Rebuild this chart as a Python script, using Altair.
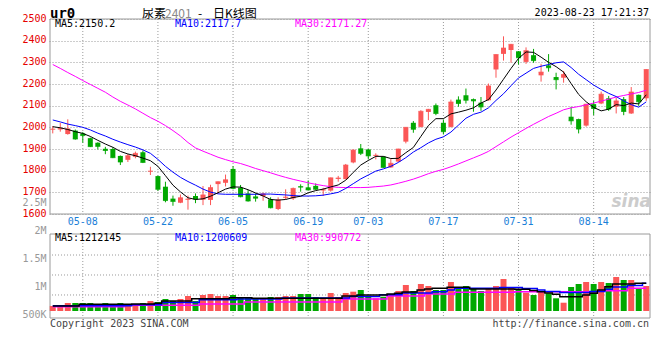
import altair as alt
import pandas as pd

# ---------------- data ----------------
dates = ["04-27", "04-28", "05-04", "05-05", "05-08", "05-09", "05-10", "05-11", "05-12", "05-15",
         "05-16", "05-17", "05-18", "05-19", "05-22", "05-23", "05-24", "05-25", "05-26", "05-29",
         "05-30", "05-31", "06-01", "06-02", "06-05", "06-06", "06-07", "06-08", "06-09", "06-12",
         "06-13", "06-14", "06-15", "06-16", "06-19", "06-20", "06-21", "06-26", "06-27", "06-28",
         "06-29", "06-30", "07-03", "07-04", "07-05", "07-06", "07-07", "07-10", "07-11", "07-12",
         "07-13", "07-14", "07-17", "07-18", "07-19", "07-20", "07-21", "07-24", "07-25", "07-26",
         "07-27", "07-28", "07-31", "08-01", "08-02", "08-03", "08-04", "08-07", "08-08", "08-09",
         "08-10", "08-11", "08-14", "08-15", "08-16", "08-17", "08-18", "08-21", "08-22", "08-23"]

opens = [1990, 1990, 1969, 1985, 1972, 1950, 1929, 1901, 1900, 1868,
         1850, 1864, 1885, 1796, 1775, 1726, 1671, 1652, 1666, 1683,
         1666, 1665, 1738, 1744, 1808, 1721, 1695, 1681, 1683, 1668,
         1623, 1675, 1672, 1728, 1723, 1730, 1709, 1708, 1762, 1761,
         1838, 1903, 1898, 1868, 1865, 1815, 1842, 1934, 2021, 2002,
         2071, 2102, 2021, 2002, 2128, 2148, 2130, 2114, 2125, 2267,
         2339, 2357, 2351, 2302, 2333, 2240, 2286, 2232, 2229, 2049,
         2038, 2008, 2107, 2110, 2134, 2095, 2130, 2064, 2150, 2134]
highs = [2006, 2020, 2037, 1990, 1978, 1953, 1931, 1910, 1908, 1870,
         1877, 1888, 1893, 1818, 1777, 1749, 1685, 1690, 1685, 1695,
         1729, 1735, 1750, 1782, 1821, 1734, 1711, 1695, 1698, 1677,
         1677, 1714, 1722, 1737, 1755, 1741, 1721, 1768, 1776, 1831,
         1898, 1923, 1900, 1880, 1866, 1854, 1901, 2001, 2029, 2079,
         2085, 2110, 2036, 2128, 2143, 2179, 2133, 2140, 2202, 2337,
         2420, 2385, 2352, 2369, 2362, 2293, 2338, 2252, 2260, 2095,
         2040, 2108, 2122, 2165, 2145, 2137, 2140, 2186, 2151, 2268]
lows = [1972, 1980, 1966, 1943, 1929, 1909, 1898, 1876, 1858, 1826,
        1840, 1857, 1835, 1780, 1707, 1654, 1638, 1650, 1620, 1650,
        1641, 1641, 1695, 1727, 1714, 1677, 1657, 1657, 1661, 1626,
        1618, 1668, 1665, 1703, 1710, 1711, 1683, 1703, 1749, 1760,
        1834, 1872, 1852, 1852, 1813, 1813, 1840, 1926, 1975, 2000,
        2033, 2056, 1967, 2000, 2095, 2110, 2072, 2076, 2123, 2229,
        2308, 2298, 2290, 2293, 2298, 2211, 2257, 2175, 2206, 2012,
        1972, 2003, 2056, 2107, 2076, 2064, 2056, 2062, 2099, 2122]
closes = [1992, 1995, 1993, 1946, 1962, 1911, 1912, 1893, 1860, 1840,
          1869, 1880, 1838, 1798, 1714, 1662, 1658, 1675, 1669, 1669,
          1688, 1722, 1749, 1758, 1718, 1680, 1660, 1673, 1693, 1629,
          1665, 1678, 1718, 1724, 1711, 1714, 1712, 1767, 1766, 1826,
          1895, 1880, 1868, 1871, 1815, 1834, 1900, 2000, 1991, 2074,
          2083, 2064, 1980, 2117, 2110, 2125, 2122, 2094, 2191, 2336,
          2366, 2383, 2321, 2354, 2308, 2255, 2275, 2220, 2244, 2030,
          1992, 2107, 2087, 2153, 2084, 2122, 2073, 2163, 2118, 2267]

ma5 = [2003, 1998, 1990, 1980, 1972, 1958, 1940, 1923, 1908, 1889,
       1877, 1869, 1858, 1846, 1820, 1777, 1733, 1702, 1675, 1667,
       1670, 1682, 1698, 1715, 1725, 1724, 1712, 1697, 1683, 1667,
       1664, 1667, 1676, 1682, 1698, 1708, 1715, 1725, 1734, 1756,
       1792, 1826, 1847, 1866, 1866, 1856, 1857, 1883, 1907, 1958,
       2008, 2040, 2040, 2062, 2070, 2079, 2090, 2112, 2128, 2172,
       2222, 2272, 2318, 2348, 2346, 2324, 2300, 2280, 2255, 2202,
       2152, 2118, 2092, 2076, 2084, 2105, 2100, 2112, 2108, 2150.2]
ma10 = [2034, 2025, 2015, 2008, 2000, 1988, 1973, 1960, 1945, 1932,
        1920, 1909, 1896, 1880, 1852, 1820, 1793, 1769, 1750, 1733,
        1715, 1701, 1693, 1691, 1691, 1691, 1691, 1691, 1692, 1692,
        1690, 1688, 1685, 1683, 1683, 1684, 1687, 1693, 1700, 1718,
        1740, 1762, 1780, 1798, 1808, 1820, 1838, 1860, 1886, 1906,
        1928, 1945, 1956, 1978, 2010, 2042, 2060, 2070, 2090, 2124,
        2155, 2192, 2228, 2250, 2272, 2282, 2290, 2298, 2302, 2276,
        2245, 2220, 2195, 2175, 2157, 2142, 2122, 2105, 2093, 2117.7]
ma30 = [2290, 2272, 2253, 2235, 2216, 2198, 2180, 2162, 2140, 2120,
        2103, 2085, 2065, 2045, 2028, 2008, 1985, 1960, 1930, 1905,
        1890, 1876, 1862, 1851, 1841, 1833, 1822, 1810, 1800, 1790,
        1779, 1769, 1760, 1752, 1744, 1737, 1731, 1726, 1723, 1722,
        1722, 1722, 1723, 1726, 1729, 1734, 1742, 1751, 1761, 1773,
        1786, 1797, 1806, 1818, 1831, 1845, 1859, 1873, 1889, 1911,
        1933, 1955, 1975, 1995, 2014, 2032, 2050, 2065, 2081, 2090,
        2096, 2104, 2112, 2121, 2130, 2140, 2147, 2154, 2161, 2171.27]

volumes = [714000, 714000, 768000, 768000, 768000, 768000, 732000, 768000, 732000, 768000,
           714000, 732000, 768000, 804000, 786000, 839000, 804000, 839000, 893000, 804000,
           911000, 929000, 893000, 893000, 911000, 875000, 875000, 857000, 839000, 875000,
           875000, 893000, 893000, 929000, 929000, 875000, 857000, 946000, 875000, 946000,
           970000, 1000000, 898000, 852000, 880000, 911000, 982000, 1089000, 982000, 1107000,
           1071000, 1000000, 1000000, 1143000, 1054000, 1071000, 1030000, 982000, 1030000, 1071000,
           1196000, 1054000, 1000000, 952000, 911000, 970000, 941000, 852000, 773000, 1054000,
           1107000, 1143000, 1107000, 1143000, 1125000, 1232000, 1179000, 1179000, 1018000, 1071000]
vol_ma5 = [714000, 714000, 714000, 714000, 745000, 745000, 745000, 745000, 745000, 745000,
           745000, 750000, 750000, 750000, 763000, 804000, 804000, 804000, 804000, 845000,
           845000, 845000, 845000, 845000, 863000, 863000, 863000, 852000, 852000, 852000,
           852000, 852000, 852000, 852000, 852000, 852000, 852000, 852000, 852000, 893000,
           893000, 911000, 911000, 911000, 911000, 929000, 941000, 964000, 964000, 1000000,
           1018000, 1030000, 1030000, 1048000, 1048000, 1048000, 1018000, 1018000, 1018000, 1018000,
           1018000, 1018000, 1013000, 1013000, 991000, 970000, 946000, 923000, 880000, 880000,
           880000, 911000, 941000, 1000000, 1059000, 1107000, 1107000, 1107000, 1120000, 1120000]
vol_ma10 = [720000, 720000, 720000, 720000, 720000, 720000, 720000, 720000, 720000, 720000,
            720000, 738000, 738000, 738000, 738000, 777000, 777000, 777000, 777000, 777000,
            825000, 825000, 825000, 825000, 825000, 839000, 839000, 839000, 839000, 839000,
            839000, 857000, 857000, 857000, 857000, 857000, 857000, 857000, 857000, 857000,
            884000, 884000, 884000, 884000, 916000, 916000, 916000, 946000, 946000, 946000,
            946000, 970000, 970000, 1000000, 1030000, 1030000, 1030000, 1030000, 1030000, 1030000,
            1045000, 1045000, 1045000, 1027000, 1027000, 1000000, 973000, 973000, 955000, 955000,
            955000, 955000, 973000, 973000, 1013000, 1054000, 1054000, 1080000, 1080000, 1120000]
vol_ma30 = [702000, 702000, 702000, 702000, 702000, 702000, 702000, 702000, 702000, 702000,
            727000, 727000, 727000, 727000, 727000, 727000, 727000, 727000, 727000, 727000,
            750000, 750000, 750000, 750000, 750000, 750000, 786000, 786000, 786000, 786000,
            786000, 786000, 786000, 786000, 786000, 786000, 786000, 786000, 786000, 839000,
            839000, 839000, 839000, 839000, 839000, 893000, 893000, 893000, 893000, 893000,
            929000, 929000, 929000, 929000, 959000, 959000, 959000, 959000, 959000, 959000,
            959000, 959000, 970000, 970000, 970000, 970000, 970000, 970000, 970000, 970000,
            970000, 970000, 970000, 988000, 988000, 988000, 988000, 1030000, 1030000, 1030000]

label_dates = ["05-08", "05-22", "06-05", "06-19", "07-03", "07-17", "07-31", "08-14"]
price_ticks = [1600, 1700, 1800, 1900, 2000, 2100, 2200, 2300, 2400, 2500]
vol_ticks = [500000, 1000000, 1500000, 2000000, 2500000]
vol_grid = [911000, 1268000, 1625000]
VOL_FLOOR = 625000

price_legend = ["MA5:2150.2", "MA10:2117.7", "MA30:2171.27"]
vol_legend = ["MA5:1212145", "MA10:1200609", "MA30:990772"]

# ---------------- styling ----------------
RED = "#fb5656"
GREEN = "#00a800"
BLUE = "#0000ff"
MAGENTA = "#ff00ff"
MONO = "DejaVu Sans Mono"
CJK = "Noto Sans CJK SC"
GRID = "#9a9a9a"

df = pd.DataFrame({
    "date": dates, "open": opens, "high": highs, "low": lows, "close": closes,
    "ma5": ma5, "ma10": ma10, "ma30": ma30,
    "vol": volumes, "vma5": vol_ma5, "vma10": vol_ma10, "vma30": vol_ma30,
})
labels_df = pd.DataFrame({"date": label_dates})
grid_df = pd.DataFrame({"g": vol_grid})
one = pd.DataFrame({"k": [0]})

X = alt.X("date:O", scale=alt.Scale(domain=dates, range=[-1, 600], paddingInner=0, paddingOuter=0), axis=None)
price_scale = alt.Scale(domain=[1600, 2500], range=[195, 0], nice=False, zero=False)
vol_scale = alt.Scale(domain=[500000, 2500000], range=[299, 187], nice=False, zero=False)
updown = alt.condition(alt.datum.close >= alt.datum.open, alt.value(RED), alt.value(GREEN))

price_axis = alt.Axis(values=price_ticks, format="d", grid=True, gridDash=[1, 2], gridColor=GRID,
                      domain=False, ticks=False, labelColor="#e60000", labelFont=MONO, labelFontSize=10,
                      labelPadding=4, labelOffset=-1, title=None, orient="left")
vol_axis = alt.Axis(values=vol_ticks, grid=False, domain=False, ticks=False, labelColor="#999999",
                    labelFont=MONO, labelFontSize=10, labelPadding=4, labelOffset=-4, title=None,
                    orient="left",
                    labelExpr="datum.value >= 1000000 ? format(datum.value / 1000000, '~g') + 'M' : format(datum.value / 1000, '~g') + 'K'")

base = alt.Chart(df)


def txt(s, x, y, color="black", size=10, align="left", font=MONO, weight="normal", style="normal"):
    return alt.Chart(one).mark_text(text=s, align=align, baseline="middle", color=color, fontSize=size,
                                    font=font, fontWeight=weight, fontStyle=style).encode(
        x=alt.value(x), y=alt.value(y))


# price panel
price_frame = alt.Chart(one).mark_rect(fill="white", fillOpacity=0, stroke=GRID, strokeWidth=1).encode(
    x=alt.value(0), x2=alt.value(600),
    y=alt.YDatum(2500, scale=price_scale, axis=None, type="quantitative"), y2=alt.Y2Datum(1600))
price_vgrid = alt.Chart(labels_df).mark_rule(strokeDash=[1, 2], color=GRID).encode(
    x=X, y=alt.YDatum(2500, scale=price_scale, axis=None, type="quantitative"), y2=alt.Y2Datum(1600))
wicks = base.mark_rule(strokeWidth=1).encode(
    x=X, y=alt.Y("low:Q", scale=price_scale, axis=price_axis), y2="high:Q", color=updown)
bodies = base.mark_bar(size=5).encode(
    x=X, y=alt.Y("open:Q", scale=price_scale, axis=None), y2="close:Q", color=updown)
doji = base.mark_tick(size=5, thickness=1).encode(
    x=X, y=alt.Y("close:Q", scale=price_scale, axis=None), color=updown)
l30 = base.mark_line(color=MAGENTA, strokeWidth=1).encode(x=X, y=alt.Y("ma30:Q", scale=price_scale, axis=None))
l10 = base.mark_line(color=BLUE, strokeWidth=1).encode(x=X, y=alt.Y("ma10:Q", scale=price_scale, axis=None))
l5 = base.mark_line(color="black", strokeWidth=1).encode(x=X, y=alt.Y("ma5:Q", scale=price_scale, axis=None))

# volume panel
vol_frame = alt.Chart(one).mark_rect(fill="white", fillOpacity=0, stroke=GRID, strokeWidth=1).encode(
    x=alt.value(0), x2=alt.value(600),
    y=alt.YDatum(2000000, scale=vol_scale, axis=None, type="quantitative"), y2=alt.Y2Datum(500000))
vol_hgrid = alt.Chart(grid_df).mark_rule(strokeDash=[1, 2], color=GRID).encode(
    y=alt.Y("g:Q", scale=vol_scale, axis=None))
vol_vgrid = alt.Chart(labels_df).mark_rule(strokeDash=[1, 2], color=GRID).encode(
    x=X, y=alt.YDatum(2000000, scale=vol_scale, axis=None, type="quantitative"), y2=alt.Y2Datum(500000))
vol_bars = base.mark_bar(size=6).encode(
    x=X, y=alt.Y("vol:Q", scale=vol_scale, axis=vol_axis), y2=alt.Y2Datum(VOL_FLOOR), color=updown)
v30 = base.mark_line(color=MAGENTA, strokeWidth=1.5, interpolate="step").encode(
    x=X, y=alt.Y("vma30:Q", scale=vol_scale, axis=None))
v10 = base.mark_line(color=BLUE, strokeWidth=1.5, interpolate="step").encode(
    x=X, y=alt.Y("vma10:Q", scale=vol_scale, axis=None))
v5 = base.mark_line(color="black", strokeWidth=1.5, interpolate="step").encode(
    x=X, y=alt.Y("vma5:Q", scale=vol_scale, axis=None))

date_labels = alt.Chart(labels_df).mark_text(color="#1a80d8", font=MONO, fontSize=10, baseline="middle").encode(
    x=X, y=alt.value(203), text="date:N")

texts = [
    txt("ur0", 0, -5, size=14, weight="bold"),
    txt("尿素", 92, -5, size=12, font=CJK),
    txt("2401", 115, -5, color="#888888", size=12, font=CJK),
    txt("-", 148, -5, size=12, font=CJK),
    txt("日K线图", 163, -5, size=12, font=CJK),
    txt("2023-08-23 17:21:37", 599, -6, align="right"),
    txt(price_legend[0], 5, 5),
    txt(price_legend[1], 125, 5, color=BLUE),
    txt(price_legend[2], 245, 5, color=MAGENTA),
    txt(vol_legend[0], 5, 219),
    txt(vol_legend[1], 125, 219, color=BLUE),
    txt(vol_legend[2], 245, 219, color=MAGENTA),
    txt("Copyright 2023 SINA.COM", 0, 305, color="#444444"),
    txt("http://finance.sina.com.cn", 599, 305, color="#444444", align="right"),
    txt("sina", 601, 183, color="#cccccc", size=17, align="right", font="DejaVu Sans", weight="bold", style="italic"),
]

chart = alt.layer(
    price_frame, price_vgrid, wicks, bodies, doji, l30, l10, l5,
    vol_frame, vol_hgrid, vol_vgrid, vol_bars, v30, v10, v5,
    date_labels, *texts
).resolve_scale(y="independent").properties(
    width=600, height=299,
    autosize=alt.AutoSizeParams(type="none"),
    padding={"left": 42, "top": 11, "right": 2, "bottom": 22},
).configure_view(strokeWidth=0)

chart.save("out.html", embed_options={"renderer": "svg", "actions": False})
